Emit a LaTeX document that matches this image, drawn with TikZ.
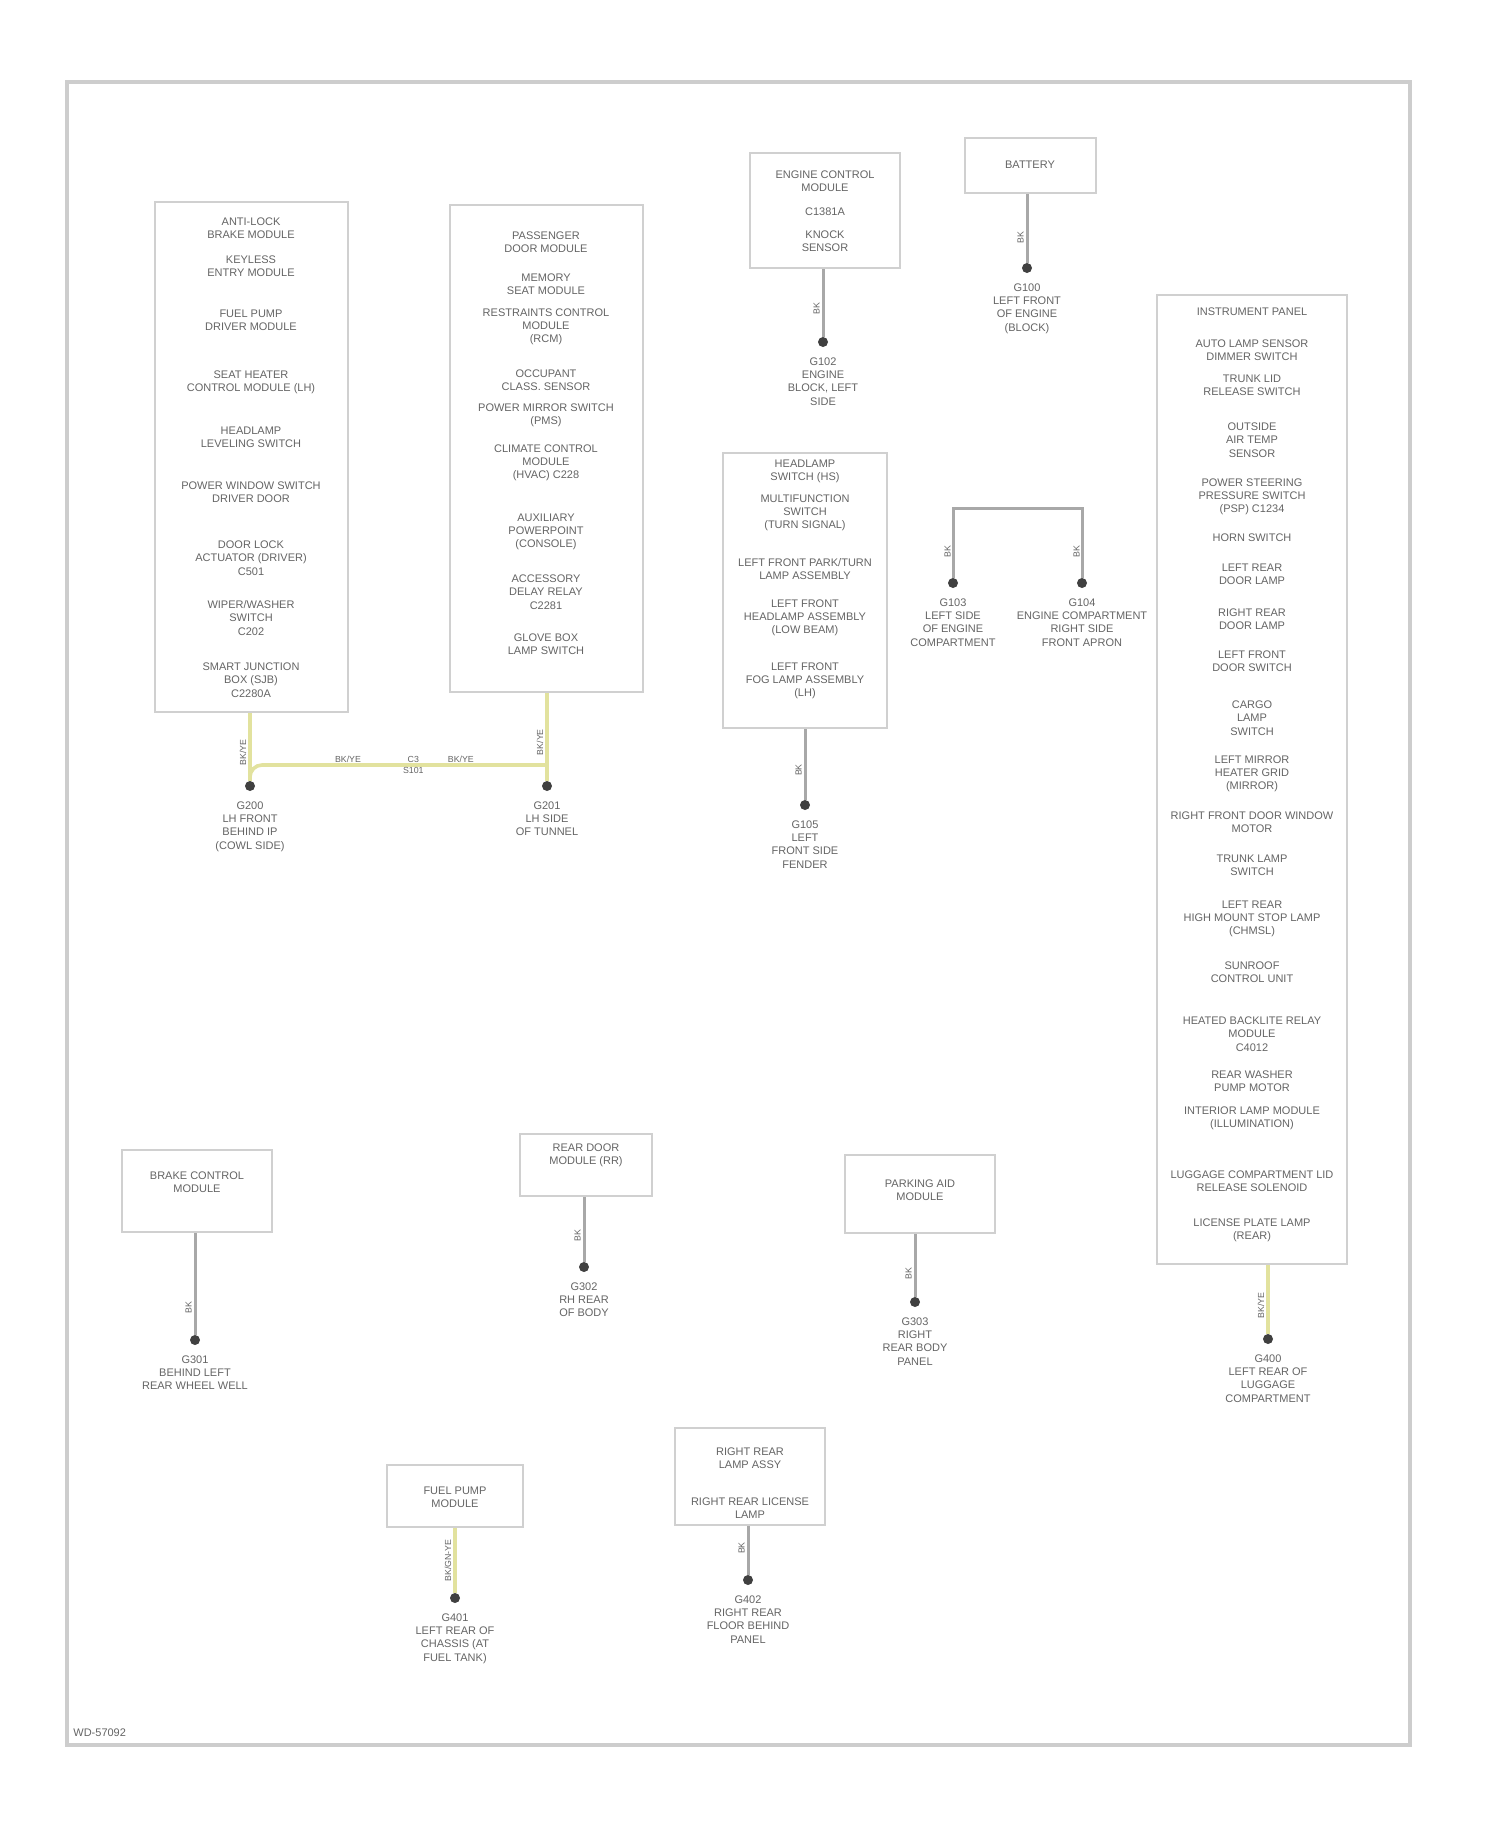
\documentclass[tikz,border=0pt]{standalone}
\usepackage{fontspec}
\setmainfont{Liberation Sans}
\usetikzlibrary{positioning, fit, calc}
\definecolor{mygray1}{RGB}{205, 205, 205}
\definecolor{mygray2}{RGB}{208, 208, 208}
\definecolor{mywire}{RGB}{168, 168, 168}
\definecolor{myyellow}{RGB}{226, 226, 158}
\definecolor{mytext}{RGB}{100, 100, 100}
\newcommand{\lblfont}{\fontsize{5.5}{6.6}\selectfont}
\newcommand{\wirefont}{\fontsize{4.4}{5}\selectfont}
\tikzset{
  box/.style = {draw = mygray2, line width = 1.3pt, inner sep = 0pt},
  lbl/.style = {align = center, inner sep = 0pt, font = \lblfont, text = mytext},
  gnd/.style = {circle, fill = black!75, inner sep = 0pt, minimum size = 5pt},
  gtext/.style = {lbl, below = 5pt of #1},
  wireG/.style = {draw = mywire, line width = 1.5pt},
  wireY/.style = {draw = myyellow, line width = 1.8pt},
  wlab/.style = {rotate = 90, anchor = south, inner sep = 1pt, font = \wirefont, text = mytext},
  hlab/.style = {above, inner sep = 1pt, font = \wirefont, text = mytext}
}

\begin{document}
\begin{tikzpicture}[x = 0.5pt, y = -0.5pt]

\useasboundingbox (0,0) rectangle (1500,1828);
\draw[mygray1, line width = 2pt] (67,82) rectangle (1410,1745);
\node[lbl, anchor = west] (foot) at (73,1733) {WD-57092};

% left pair of boxes
\node[box, fit = {(155,202) (348,712)}] (bxA) {};
\node[lbl] (a1) at (251,228) {ANTI-LOCK\\BRAKE MODULE};
\node[lbl] (a2) at (251,266) {KEYLESS\\ENTRY MODULE};
\node[lbl] (a3) at (251,320) {FUEL PUMP\\DRIVER MODULE};
\node[lbl] (a4) at (251,382) {SEAT HEATER\\CONTROL MODULE (LH)};
\node[lbl] (a5) at (251,437) {HEADLAMP\\LEVELING SWITCH};
\node[lbl] (a6) at (251,492) {POWER WINDOW SWITCH\\DRIVER DOOR};
\node[lbl] (a7) at (251,558) {DOOR LOCK\\ACTUATOR (DRIVER)\\C501};
\node[lbl] (a8) at (251,618) {WIPER/WASHER\\SWITCH\\C202};
\node[lbl] (a9) at (251,680) {SMART JUNCTION\\BOX (SJB)\\C2280A};

\node[box, fit = {(450,205) (643,692)}] (bxB) {};
\node[lbl] (b1) at (546,242) {PASSENGER\\DOOR MODULE};
\node[lbl] (b2) at (546,284) {MEMORY\\SEAT MODULE};
\node[lbl] (b3) at (546,327) {RESTRAINTS CONTROL\\MODULE\\(RCM)};
\node[lbl] (b4) at (546,380) {OCCUPANT\\CLASS. SENSOR};
\node[lbl] (b5) at (546,415) {POWER MIRROR SWITCH\\(PMS)};
\node[lbl] (b6) at (546,463) {CLIMATE CONTROL\\MODULE\\(HVAC) C228};
\node[lbl] (b7) at (546,532) {AUXILIARY\\POWERPOINT\\(CONSOLE)};
\node[lbl] (b8) at (546,592) {ACCESSORY\\DELAY RELAY\\C2281};
\node[lbl] (b9) at (546,644) {GLOVE BOX\\LAMP SWITCH};

\node[gnd] (gA) at (250,786) {};
\node[gnd] (gB) at (547,786) {};
\coordinate (jA) at (250,765);
\coordinate (jB) at (547,765);
\draw[wireY] (bxA.south -| gA) -- node[wlab, pos = 0.58] {BK/YE} (gA);
\draw[wireY] (bxB.south -| gB) -- node[wlab, pos = 0.56] {BK/YE} (gB);
\draw[wireY, rounded corners = 6pt] (gA) |- (jB);
\path (jA) -- (jB) node[hlab, pos = 0.33] {BK/YE} node[hlab, pos = 0.55] {C3}
  node[below, inner sep = 1pt, font = \wirefont, text = mytext, pos = 0.55] {S101}
  node[hlab, pos = 0.71] {BK/YE};
\node[gtext = gA] (gAt) {G200\\LH FRONT\\BEHIND IP\\(COWL SIDE)};
\node[gtext = gB] (gBt) {G201\\LH SIDE\\OF TUNNEL};

% top middle
\node[box, fit = {(750,153) (900,268)}] (bxC) {};
\node[lbl] (c1) at (825,181) {ENGINE CONTROL\\MODULE};
\node[lbl] (c2) at (825,212) {C1381A};
\node[lbl] (c3) at (825,241) {KNOCK\\SENSOR};
\node[gnd] (gC) at (823,342) {};
\draw[wireG] (bxC.south -| gC) -- node[wlab, pos = 0.58] {BK} (gC);
\node[gtext = gC] (gCt) {G102\\ENGINE\\BLOCK, LEFT\\SIDE};

\node[box, fit = {(965,138) (1096,193)}] (bxD) {};
\node[lbl] (d1) at (1030,165) {BATTERY};
\node[gnd] (gD) at (1027,268) {};
\draw[wireG] (bxD.south -| gD) -- node[wlab, pos = 0.63] {BK} (gD);
\node[gtext = gD] (gDt) {G100\\LEFT FRONT\\OF ENGINE\\(BLOCK)};

% middle box and bracket
\node[box, fit = {(723,453) (887,728)}] (bxE) {};
\node[lbl] (e1) at (805,471) {HEADLAMP\\SWITCH (HS)};
\node[lbl] (e2) at (805,513) {MULTIFUNCTION\\SWITCH\\(TURN SIGNAL)};
\node[lbl] (e3) at (805,569) {LEFT FRONT PARK/TURN\\LAMP ASSEMBLY};
\node[lbl] (e4) at (805,618) {LEFT FRONT\\HEADLAMP ASSEMBLY\\(LOW BEAM)};
\node[lbl] (e5) at (805,681) {LEFT FRONT\\FOG LAMP ASSEMBLY\\(LH)};
\node[gnd] (gE) at (805,805) {};
\draw[wireG] (bxE.south -| gE) -- node[wlab, pos = 0.58] {BK} (gE);
\node[gtext = gE] (gEt) {G105\\LEFT\\FRONT SIDE\\FENDER};

\node[gnd] (gL) at (953,583) {};
\node[gnd] (gR) at (1082,583) {};
\coordinate (brT) at (1017,508);
\draw[wireG] (gL) |- (brT) -| (gR);
\path (brT -| gL) -- node[wlab, pos = 0.62] {BK} (gL);
\path (brT -| gR) -- node[wlab, pos = 0.62] {BK} (gR);
\node[gtext = gL] (gLt) {G103\\LEFT SIDE\\OF ENGINE\\COMPARTMENT};
\node[gtext = gR] (gRt) {G104\\ENGINE COMPARTMENT\\RIGHT SIDE\\FRONT APRON};

% right column
\node[box, fit = {(1157,295) (1347,1264)}] (bxF) {};
\node[lbl] (f1) at (1252,312) {INSTRUMENT PANEL};
\node[lbl] (f2) at (1252,350) {AUTO LAMP SENSOR\\DIMMER SWITCH};
\node[lbl] (f3) at (1252,385) {TRUNK LID\\RELEASE SWITCH};
\node[lbl] (f4) at (1252,440) {OUTSIDE\\AIR TEMP\\SENSOR};
\node[lbl] (f5) at (1252,497) {POWER STEERING\\PRESSURE SWITCH\\(PSP) C1234};
\node[lbl] (f6) at (1252,538) {HORN SWITCH};
\node[lbl] (f7) at (1252,574) {LEFT REAR\\DOOR LAMP};
\node[lbl] (f8) at (1252,619) {RIGHT REAR\\DOOR LAMP};
\node[lbl] (f9) at (1252,661) {LEFT FRONT\\DOOR SWITCH};
\node[lbl] (f10) at (1252,718) {CARGO\\LAMP\\SWITCH};
\node[lbl] (f11) at (1252,774) {LEFT MIRROR\\HEATER GRID\\(MIRROR)};
\node[lbl] (f12) at (1252,822) {RIGHT FRONT DOOR WINDOW\\MOTOR};
\node[lbl] (f13) at (1252,865) {TRUNK LAMP\\SWITCH};
\node[lbl] (f14) at (1252,919) {LEFT REAR\\HIGH MOUNT STOP LAMP\\(CHMSL)};
\node[lbl] (f15) at (1252,972) {SUNROOF\\CONTROL UNIT};
\node[lbl] (f16) at (1252,1034) {HEATED BACKLITE RELAY\\MODULE\\C4012};
\node[lbl] (f17) at (1252,1081) {REAR WASHER\\PUMP MOTOR};
\node[lbl] (f18) at (1252,1118) {INTERIOR LAMP MODULE\\(ILLUMINATION)};
\node[lbl] (f19) at (1252,1181) {LUGGAGE COMPARTMENT LID\\RELEASE SOLENOID};
\node[lbl] (f20) at (1252,1230) {LICENSE PLATE LAMP\\(REAR)};
\node[gnd] (gF) at (1268,1339) {};
\draw[wireY] (bxF.south -| gF) -- node[wlab, pos = 0.59] {BK/YE} (gF);
\node[gtext = gF] (gFt) {G400\\LEFT REAR OF\\LUGGAGE\\COMPARTMENT};

% lower row
\node[box, fit = {(122,1150) (272,1232)}] (bxG) {};
\node[lbl] (g1) at (197,1182) {BRAKE CONTROL\\MODULE};
\node[gnd] (gG) at (195,1340) {};
\draw[wireG] (bxG.south -| gG) -- node[wlab, pos = 0.73] {BK} (gG);
\node[gtext = gG] (gGt) {G301\\BEHIND LEFT\\REAR WHEEL WELL};

\node[box, fit = {(520,1134) (652,1196)}] (bxH) {};
\node[lbl] (h1) at (586,1155) {REAR DOOR\\MODULE (RR)};
\node[gnd] (gH) at (584,1267) {};
\draw[wireG] (bxH.south -| gH) -- node[wlab, pos = 0.6] {BK} (gH);
\node[gtext = gH] (gHt) {G302\\RH REAR\\OF BODY};

\node[box, fit = {(845,1155) (995,1233)}] (bxI) {};
\node[lbl] (i1) at (920,1190) {PARKING AID\\MODULE};
\node[gnd] (gI) at (915,1302) {};
\draw[wireG] (bxI.south -| gI) -- node[wlab, pos = 0.63] {BK} (gI);
\node[gtext = gI] (gIt) {G303\\RIGHT\\REAR BODY\\PANEL};

\node[box, fit = {(387,1465) (523,1527)}] (bxJ) {};
\node[lbl] (j1) at (455,1497) {FUEL PUMP\\MODULE};
\node[gnd] (gJ) at (455,1598) {};
\draw[wireY] (bxJ.south -| gJ) -- node[wlab, pos = 0.5] {BK/GN-YE} (gJ);
\node[gtext = gJ] (gJt) {G401\\LEFT REAR OF\\CHASSIS (AT\\FUEL TANK)};

\node[box, fit = {(675,1428) (825,1525)}] (bxK) {};
\node[lbl] (k1) at (750,1458) {RIGHT REAR\\LAMP ASSY};
\node[lbl] (k2) at (750,1508) {RIGHT REAR LICENSE\\LAMP};
\node[gnd] (gK) at (748,1580) {};
\draw[wireG] (bxK.south -| gK) -- node[wlab, pos = 0.45] {BK} (gK);
\node[gtext = gK] (gKt) {G402\\RIGHT REAR\\FLOOR BEHIND\\PANEL};

\end{tikzpicture}
\end{document}
